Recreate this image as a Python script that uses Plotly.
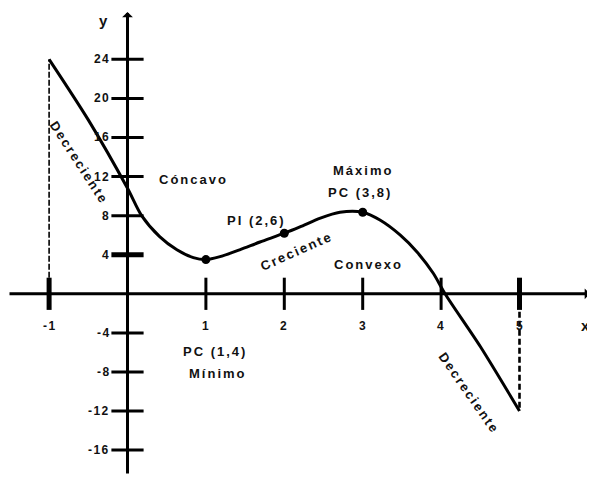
import plotly.graph_objects as go

# ---- data ----
curve_x = [-1, -0.5, 0, 0.18, 0.41, 0.63, 0.84, 1, 1.18, 1.43, 1.69, 2,
           2.2, 2.46, 2.71, 3, 3.22, 3.48, 3.69, 3.9, 4.05, 4.5, 5]
curve_y = [24, 17.8, 10.8, 8, 5.85, 4.5, 3.7, 3.5, 3.8, 4.5, 5.3, 6.2,
           6.85, 7.75, 8.35, 8.35, 7.55, 6.0, 4.3, 2.1, 0, -5.4, -12]
crit_x = [1, 2, 3]
crit_y = [3.5, 6.2, 8.35]
y_tick_vals = [24, 20, 16, 12, 8, 4, -4, -8, -12, -16]
x_tick_vals = [-1, 1, 2, 3, 4, 5]
start_pt = (-1, 24)
end_pt = (5, -12)

FONT = "Liberation Sans, Arial, sans-serif"
INK = "#111111"

# page is shown with the browser's default 8px body margin
X_RANGE = [-1.5242, 5.9630]
Y_RANGE = [-18.547, 29.253]


def sp(t, ls=2.0):
    return f'<span style="letter-spacing:{ls}px">{t}</span>'


fig = go.Figure()

# dashed verticals
fig.add_trace(go.Scatter(x=[start_pt[0], start_pt[0]], y=[0, start_pt[1]], mode="lines",
                         line=dict(color="black", width=1.6, dash="6px,2px"), hoverinfo="skip"))
fig.add_trace(go.Scatter(x=[end_pt[0], end_pt[0]], y=[0, end_pt[1]], mode="lines",
                         line=dict(color="black", width=2.6, dash="6px,3px"), hoverinfo="skip"))

# curve
fig.add_trace(go.Scatter(x=curve_x, y=curve_y, mode="lines",
                         line=dict(color="black", width=3, shape="spline", smoothing=0.8)))
fig.add_trace(go.Scatter(x=crit_x, y=crit_y, mode="markers",
                         marker=dict(color="black", size=9)))

# tick marks crossing the axes
fig.add_trace(go.Scatter(x=[0] * len(y_tick_vals), y=y_tick_vals, mode="markers",
                         marker=dict(symbol="line-ew", size=23, color="black",
                                     line=dict(color="black",
                                               width=[5 if v == 4 else 3 for v in y_tick_vals]))))
fig.add_trace(go.Scatter(x=x_tick_vals, y=[0] * len(x_tick_vals), mode="markers",
                         marker=dict(symbol="line-ns", size=23, color="black",
                                     line=dict(color="black",
                                               width=[5 if v in (-1, 5) else 3 for v in x_tick_vals]))))

annotations = []
# axes with arrowheads
annotations.append(dict(x=5.90, y=0, ax=X_RANGE[0], ay=0, xref="x", yref="y", axref="x", ayref="y",
                        text="", showarrow=True, arrowhead=1, arrowsize=0.6, arrowwidth=3,
                        arrowcolor="black", standoff=0, startstandoff=0))
annotations.append(dict(x=0, y=28.85, ax=0, ay=Y_RANGE[0], xref="x", yref="y", axref="x", ayref="y",
                        text="", showarrow=True, arrowhead=1, arrowsize=0.6, arrowwidth=3,
                        arrowcolor="black", standoff=0, startstandoff=0))

# tick labels
for v in y_tick_vals:
    annotations.append(dict(x=0, y=v, xref="x", yref="y", text=sp(str(v), 1.4), showarrow=False,
                            xanchor="right", yanchor="middle", xshift=-16,
                            font=dict(family=FONT, size=12, color=INK, weight="bold")))
for v in x_tick_vals:
    annotations.append(dict(x=v, y=0, xref="x", yref="y", text=sp(str(v), 1.4), showarrow=False,
                            xanchor="center", yanchor="middle", yshift=-32,
                            font=dict(family=FONT, size=12, color=INK, weight="bold")))

# axis names
annotations.append(dict(x=-0.30, y=28.0, xref="x", yref="y", text="y", showarrow=False,
                        font=dict(family=FONT, size=15, color=INK, weight="bold")))
annotations.append(dict(x=5.84, y=-3.2, xref="x", yref="y", text="x", showarrow=False,
                        font=dict(family=FONT, size=15, color=INK, weight="bold")))

labels = [
    ("Cóncavo", 0.84, 11.65, 0),
    ("Máximo", 3.0, 12.67, 0),
    ("PC (3,8)", 2.96, 10.35, 0),
    ("PI (2,6)", 1.64, 7.55, 0),
    ("Convexo", 3.07, 3.05, 0),
    ("PC (1,4)", 1.11, -5.9, 0),
    ("Mínimo", 1.16, -8.14, 0),
    ("Creciente", 2.15, 4.3, -24),
    ("Decreciente", -0.62, 13.4, 57),
    ("Decreciente", 4.36, -10.2, 55),
]
for t, x, y, ang in labels:
    annotations.append(dict(x=x, y=y, xref="x", yref="y", text=sp(t), showarrow=False,
                            textangle=ang, xanchor="center", yanchor="middle",
                            font=dict(family=FONT, size=13, color=INK, weight="bold")))

fig.update_layout(
    width=587, height=467,
    margin=dict(l=0, r=0, t=0, b=0),
    paper_bgcolor="white", plot_bgcolor="white",
    showlegend=False,
    xaxis=dict(range=X_RANGE, visible=False, fixedrange=True),
    yaxis=dict(range=Y_RANGE, visible=False, fixedrange=True),
    annotations=annotations,
)

fig.write_html("out.html")
